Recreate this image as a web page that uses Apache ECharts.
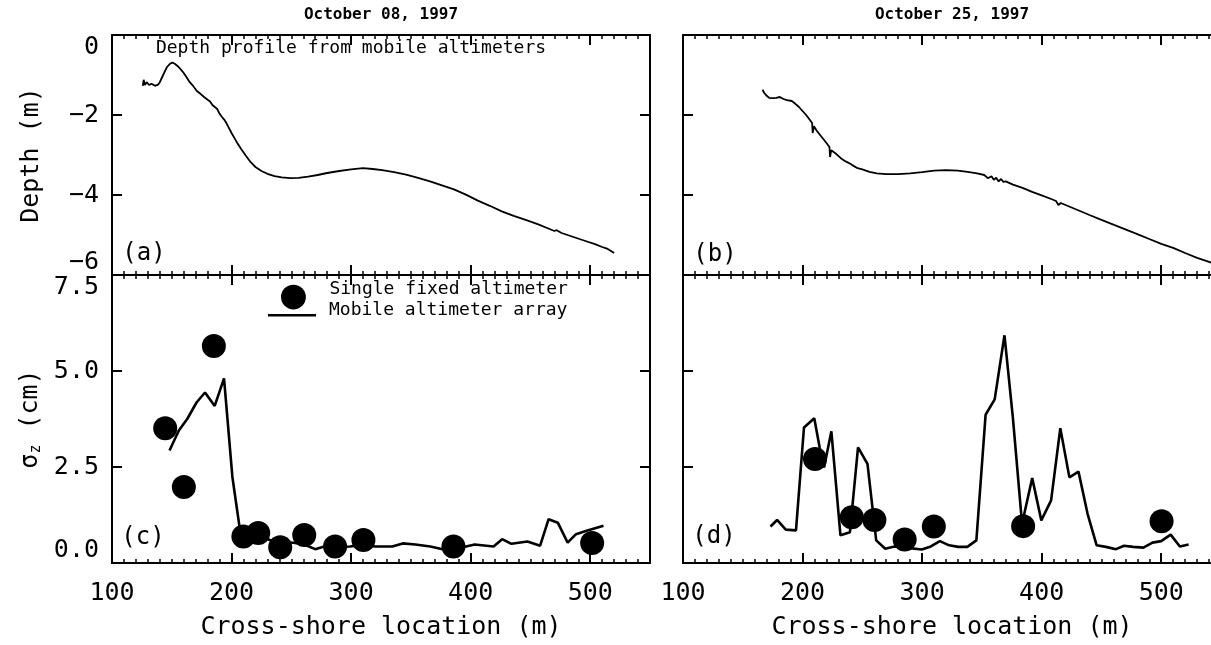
<!DOCTYPE html>
<html>
<head>
<meta charset="utf-8">
<script src="https://cdn.jsdelivr.net/npm/echarts@6/dist/echarts.min.js"></script>
<style>html,body{margin:0;padding:0;background:#fff}#c{width:1211px;height:645px}</style>
</head>
<body>
<div id="c"></div>
<script>
// ---- Data ----
const depthX_a = [125.8,126.5,127.5,129,131,133,136,138.5,140,142,144,146,148.5,150.5,152.5,155,157.5,160,162.5,165,168,171,174,177,180,182,184,186,188,190,192,194,196,200,204,208,212,216,220,225,230,236,242,249,256,264,272,280,290,300,310,318,326,336,346,356,366,376,386,396,406,416,426,436,446,456,466,470,472,476,486,496,504,510,514,520];
const depthY_a = [-1.27,-1.12,-1.25,-1.18,-1.25,-1.22,-1.27,-1.24,-1.18,-1.05,-0.92,-0.8,-0.72,-0.69,-0.72,-0.78,-0.86,-0.95,-1.06,-1.18,-1.28,-1.4,-1.47,-1.55,-1.62,-1.66,-1.75,-1.8,-1.85,-1.97,-2.05,-2.12,-2.22,-2.45,-2.66,-2.85,-3.02,-3.18,-3.3,-3.4,-3.47,-3.53,-3.56,-3.58,-3.57,-3.54,-3.5,-3.45,-3.4,-3.36,-3.33,-3.35,-3.38,-3.43,-3.49,-3.57,-3.66,-3.76,-3.86,-3.99,-4.14,-4.27,-4.41,-4.52,-4.62,-4.73,-4.85,-4.9,-4.88,-4.95,-5.05,-5.15,-5.23,-5.3,-5.34,-5.45];

const depthX_b = [166.5,168,170,172,175,178,181,184,187,191,194,197,200,203,206,208,208.5,209.5,212,216,220,222.5,223,224,228,232,236,240,242,246,250,256,262,270,280,290,300,310,320,330,338,346,352,355,358,360,362,364,366,368,370,376,384,392,400,408,412,414,416,424,432,440,450,460,470,480,490,500,510,520,530,540,550];
const depthY_b = [-1.37,-1.45,-1.52,-1.57,-1.58,-1.57,-1.55,-1.6,-1.63,-1.65,-1.72,-1.8,-1.9,-2.0,-2.12,-2.2,-2.45,-2.28,-2.4,-2.55,-2.7,-2.8,-3.05,-2.88,-2.97,-3.08,-3.16,-3.22,-3.26,-3.33,-3.36,-3.42,-3.46,-3.48,-3.48,-3.46,-3.43,-3.39,-3.38,-3.39,-3.42,-3.46,-3.5,-3.58,-3.53,-3.62,-3.57,-3.66,-3.6,-3.67,-3.66,-3.74,-3.82,-3.92,-4.01,-4.1,-4.15,-4.25,-4.2,-4.3,-4.4,-4.5,-4.62,-4.74,-4.86,-4.98,-5.1,-5.22,-5.32,-5.45,-5.57,-5.67,-5.77];

const mobileX_c = [148.1,155.9,162.9,170.7,177.8,185.9,193.7,200.7,207.8,223.0,231.9,242.5,253.1,260.1,270.0,279.6,288.4,299.0,309.6,320.2,334.4,343.2,353.8,366.2,380.3,390.9,403.3,419.2,426.3,434.1,447.5,458.1,465.2,472.9,481.1,488.1,497.0,511.1];
const mobileY_c = [2.93,3.45,3.75,4.18,4.44,4.09,4.81,2.24,0.69,0.73,0.60,0.56,0.52,0.49,0.36,0.45,0.41,0.43,0.47,0.43,0.43,0.51,0.48,0.43,0.33,0.39,0.48,0.43,0.62,0.50,0.56,0.45,1.14,1.05,0.53,0.75,0.84,0.97];
const fixedX_c = [144.5,160.1,185.2,209.9,222.3,240.7,260.8,286.6,310.3,385.6,501.6];
const fixedY_c = [3.51,1.98,5.65,0.69,0.78,0.41,0.73,0.43,0.60,0.43,0.52];

const mobileX_d = [173.2,178.7,186.0,194.5,201.2,209.8,214.3,218.0,224.1,231.7,239.6,246.4,254.3,261.6,269.2,276.8,286.0,299.7,307.3,314.9,322.6,330.2,337.8,345.4,353.1,360.7,368.9,375.9,383.6,392.1,399.7,407.9,415.6,423.2,430.8,438.4,446.0,453.7,462.2,468.9,476.5,485.1,492.7,500.0,507.9,515.6,522.9];
const mobileY_d = [0.95,1.12,0.87,0.85,3.53,3.77,3.01,2.49,3.43,0.72,0.80,3.01,2.58,0.59,0.37,0.43,0.40,0.35,0.43,0.57,0.46,0.42,0.42,0.59,3.86,4.26,5.93,3.79,1.02,2.21,1.11,1.63,3.51,2.23,2.38,1.28,0.46,0.42,0.36,0.45,0.42,0.40,0.53,0.57,0.74,0.43,0.48];
const fixedX_d = [210.4,241.2,260.1,285.4,309.8,384.5,500.3];
const fixedY_d = [2.71,1.19,1.12,0.61,0.95,0.96,1.09];

const dateTitles = ['October 08, 1997', 'October 25, 1997'];
const panelLabels = ['(a)', '(b)', '(c)', '(d)'];
const xTitle = 'Cross-shore location (m)';
const fixedName = 'Single fixed altimeter';
const mobileName = 'Mobile altimeter array';

// ---- Helpers ----
const FONT = '"DejaVu Sans Mono", monospace';
const zip = (xs, ys) => xs.map((x, i) => [x, ys[i]]);
const grids = [
  {left: 112, top: 35, width: 538, height: 240},
  {left: 683, top: 35, width: 538, height: 240},
  {left: 112, top: 275, width: 538, height: 288},
  {left: 683, top: 275, width: 538, height: 288}
].map(g => Object.assign({outerBoundsMode: 'none', containLabel: false}, g));

const axisLineStyle = {color: '#000', width: 2};
function xAxesFor(gi, withLabels) {
  const base = {gridIndex: gi, type: 'value', min: 100, max: 550, splitLine: {show: false}};
  return [
    Object.assign({}, base, {
      position: 'bottom', interval: 100,
      axisLine: {show: true, onZero: false, lineStyle: axisLineStyle},
      axisTick: {show: true, inside: true, length: 10, lineStyle: {color: '#000', width: 2}},
      axisLabel: {show: withLabels, margin: 18, color: '#000', fontFamily: FONT, fontSize: 25,
        formatter: v => (v % 100 === 0 ? String(v) : '')},
      name: withLabels ? xTitle : '', nameLocation: 'middle', nameGap: 52,
      nameTextStyle: {color: '#000', fontFamily: FONT, fontSize: 25}
    }),
    Object.assign({}, base, {
      position: 'bottom', interval: 10,
      axisLine: {show: false, onZero: false},
      axisTick: {show: true, inside: true, length: 4, lineStyle: {color: '#000', width: 1.5}},
      axisLabel: {show: false}
    }),
    Object.assign({}, base, {
      position: 'top', interval: 100,
      axisLine: {show: true, onZero: false, lineStyle: axisLineStyle},
      axisTick: {show: true, inside: true, length: 10, lineStyle: {color: '#000', width: 2}},
      axisLabel: {show: false}
    }),
    Object.assign({}, base, {
      position: 'top', interval: 10,
      axisLine: {show: false, onZero: false},
      axisTick: {show: true, inside: true, length: 4, lineStyle: {color: '#000', width: 1.5}},
      axisLabel: {show: false}
    })
  ];
}
function yAxesFor(gi, withLabels, isDepth) {
  const base = {
    gridIndex: gi, type: 'value',
    min: isDepth ? -6 : 0, max: isDepth ? 0 : 7.5, interval: isDepth ? 2 : 2.5,
    splitLine: {show: false},
    axisLine: {show: true, onZero: false, lineStyle: axisLineStyle},
    axisTick: {show: true, inside: true, length: 10, lineStyle: {color: '#000', width: 2}}
  };
  const left = Object.assign({}, base, {
    position: 'left',
    axisLabel: {show: withLabels, margin: 13, color: '#000', fontFamily: FONT, fontSize: 25,
      verticalAlignMinLabel: 'bottom', verticalAlignMaxLabel: 'top',
      formatter: v => isDepth ? String(Math.round(v)).replace('-', '\u2212') : v.toFixed(1)},
    nameLocation: 'middle', nameRotate: 90, nameGap: 68,
    name: !withLabels ? '' : (isDepth ? 'Depth (m)' : '{s|\u03c3}{sub|z}{s| (cm)}'),
    nameTextStyle: {color: '#000', fontFamily: FONT, fontSize: 25,
      rich: {s: {fontFamily: FONT, fontSize: 25, color: '#000'},
             sub: {fontFamily: FONT, fontSize: 15, color: '#000', verticalAlign: 'bottom', padding: [12, 0, 0, 0]}}}
  });
  const right = Object.assign({}, base, {position: 'right', axisLabel: {show: false}});
  return [left, right];
}

const xAxis = [].concat(xAxesFor(0, false), xAxesFor(1, false), xAxesFor(2, true), xAxesFor(3, true));
const yAxis = [].concat(yAxesFor(0, true, true), yAxesFor(1, false, true), yAxesFor(2, true, false), yAxesFor(3, false, false));

function lineSeries(name, gi, data, width) {
  return {name, type: 'line', xAxisIndex: gi * 4, yAxisIndex: gi * 2, data,
    showSymbol: false, symbol: 'none', smooth: false, animation: false,
    lineStyle: {color: '#000', width}, itemStyle: {color: '#000'}, z: 3};
}
function dotSeries(name, gi, data) {
  return {name, type: 'scatter', xAxisIndex: gi * 4, yAxisIndex: gi * 2, data,
    symbol: 'circle', symbolSize: 24, itemStyle: {color: '#000', opacity: 1}, animation: false, z: 4};
}

const series = [
  lineSeries('Depth (a)', 0, zip(depthX_a, depthY_a), 1.8),
  lineSeries('Depth (b)', 1, zip(depthX_b, depthY_b), 1.8),
  lineSeries(mobileName, 2, zip(mobileX_c, mobileY_c), 2.6),
  dotSeries(fixedName, 2, zip(fixedX_c, fixedY_c)),
  lineSeries(mobileName, 3, zip(mobileX_d, mobileY_d), 2.6),
  dotSeries(fixedName, 3, zip(fixedX_d, fixedY_d))
];

const txt = (text, x, y, size, weight) => ({
  type: 'text', x, y, z: 10, silent: true,
  style: {text, fill: '#000', fontFamily: FONT, fontSize: size, fontWeight: weight || 'normal',
    textAlign: 'center', textVerticalAlign: 'middle'}
});

// legend icons: visible mark offset inside its box so it sits lower than the text centre
const dotIcon = 'path://M0,0 M0,25.5 A11.5,11.5 0 1 0 23,25.5 A11.5,11.5 0 1 0 0,25.5 Z';
const lineIcon = 'path://M0,0 M0,9 L46,9 L46,11.5 L0,11.5 Z';

const option = {
  animation: false,
  backgroundColor: '#fff',
  grid: grids,
  xAxis, yAxis, series,
  legend: [
    {data: [{name: fixedName, icon: dotIcon}], left: 276, top: 264.5, orient: 'vertical',
     itemWidth: 62, itemHeight: 40, symbolKeepAspect: true, selectedMode: false,
     textStyle: {color: '#000', fontFamily: FONT, fontSize: 18}},
    {data: [{name: mobileName, icon: lineIcon}], left: 263, top: 296.5, orient: 'vertical',
     itemWidth: 64, itemHeight: 12, symbolKeepAspect: true, selectedMode: false,
     textStyle: {color: '#000', fontFamily: FONT, fontSize: 18}}
  ],
  graphic: [
    txt(dateTitles[0], 381, 15, 16, 'bold'),
    txt(dateTitles[1], 952, 15, 16, 'bold'),
    txt('Depth profile from mobile altimeters', 351, 48, 18),
    txt(panelLabels[0], 144, 254, 24),
    txt(panelLabels[1], 715, 255, 24),
    txt(panelLabels[2], 143, 538, 24),
    txt(panelLabels[3], 714, 537, 24)
  ]
};

const chart = echarts.init(document.getElementById('c'), null, {renderer: 'canvas'});
chart.setOption(option);
</script>
</body>
</html>
